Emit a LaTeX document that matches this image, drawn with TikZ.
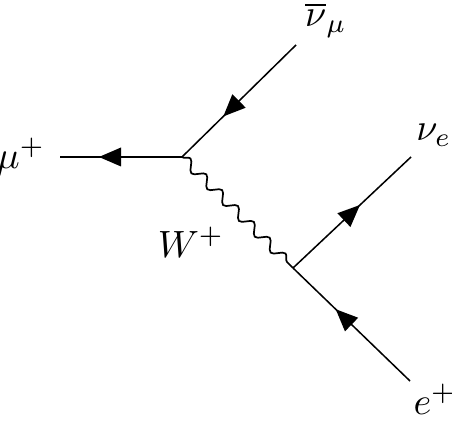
\documentclass[tikz,border=0pt]{standalone}
\usetikzlibrary{decorations.markings,decorations.pathmorphing}
\tikzset{
  fermion/.style={draw, line width=0.4pt, postaction={decorate},
    decoration={markings, mark=at position 0.5 with {\fill[xshift=#1] (5.8pt,0) -- (0,2.5pt) -- (0,-2.5pt) -- cycle;}}},
  fermion/.default=0pt,
  boson/.style={draw, line width=0.45pt, decorate, decoration={snake, amplitude=1.3pt, segment length=5.9pt}},
  lbl/.style={inner sep=0pt}
}
\begin{document}
\begin{tikzpicture}[x=0.2632pt, y=-0.2632pt]
  \useasboundingbox (0,0) rectangle (452,426);
  \coordinate (v1) at (182,157);
  \coordinate (v2) at (293,268);
  \coordinate (emu) at (60,157);
  \coordinate (enumu) at (296,45);
  \coordinate (enue) at (411,157);
  \coordinate (ee) at (410,381);
  \draw[fermion] (v1) -- (emu);
  \draw[fermion] (enumu) -- (v1);
  \draw[fermion=-2.9pt] (v2) -- (enue);
  \draw[fermion] (ee) -- (v2);
  \draw[boson] (v1) -- (v2);
  \node[lbl] (lmu) at (21,157) {$\mu^+$};
  \node[lbl] (lnumu) at (326,20) {$\overline{\nu}_\mu$};
  \node[lbl] (lnue) at (434,135) {$\nu_e$};
  \node[lbl] (le) at (435,399) {$e^+$};
  \node[lbl] (lW) at (191,242) {$W^+$};
\end{tikzpicture}
\end{document}
